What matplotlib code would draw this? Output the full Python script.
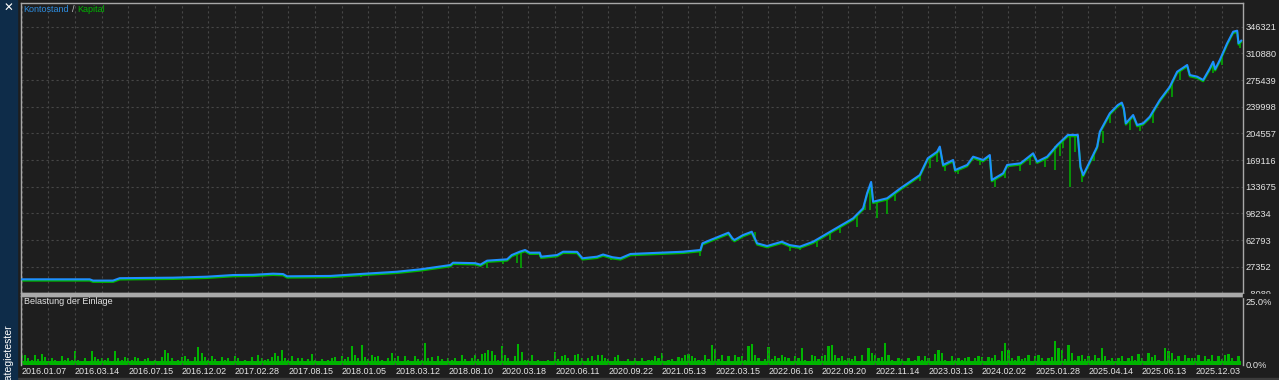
import numpy as np
import matplotlib.pyplot as plt
import matplotlib.transforms as mtransforms
from matplotlib.patches import Rectangle

plt.rcParams['font.family'] = ['Liberation Sans', 'DejaVu Sans']

# balance curve: trade number -> account balance
trade_no = [0, 102, 107, 137, 147, 227, 278, 317, 347, 377, 392, 398, 463, 508, 563,
            598, 643, 647, 680, 688, 698, 728, 735, 747, 755, 762, 777, 779, 803, 812,
            833, 841, 863, 872, 886, 898, 913, 992, 1018, 1021, 1033, 1060, 1066, 1069,
            1082, 1095, 1103, 1118, 1140, 1152, 1167, 1187, 1217, 1247, 1262, 1268, 1274,
            1277, 1298, 1318, 1347, 1359, 1373, 1377, 1382, 1397, 1400, 1418, 1427, 1442,
            1452, 1455, 1472, 1478, 1498, 1517, 1523, 1538, 1553, 1569, 1584, 1588, 1592,
            1602, 1613, 1617, 1632, 1644, 1650, 1653, 1656, 1667, 1673, 1682, 1692, 1707,
            1722, 1733, 1748, 1752, 1763, 1772, 1782, 1787, 1790, 1797, 1808, 1817, 1823,
            1825, 1829]
balance = [10500, 10500, 8800, 8800, 12000, 12700, 14000, 16200, 16500, 18000, 17500,
           14500, 15000, 17600, 20600, 23800, 29500, 32600, 32000, 30000, 35300, 37100,
           42800, 47200, 49500, 45900, 46000, 40600, 42800, 47200, 47000, 38500, 40600,
           43500, 39900, 38500, 44200, 47200, 49500, 58400, 62800, 72500, 65000, 62800,
           69400, 73800, 58400, 54800, 60500, 56000, 53900, 60500, 76100, 91600, 105000,
           125000, 140000, 113700, 118300, 131600, 149200, 171500, 180200, 187000, 162600,
           169200, 155900, 162600, 173600, 169200, 175800, 142600, 151500, 162600, 164800,
           178100, 167000, 173600, 189000, 202500, 202500, 160300, 149200, 167000, 187000,
           206800, 231300, 242300, 245500, 238000, 218000, 229000, 215700, 218000, 226800,
           249000, 266700, 286600, 295500, 282200, 280000, 275600, 291100, 299900, 290000,
           302200, 324400, 339800, 341200, 324400, 327900]

# equity drawdowns: trade number, balance level, lowest equity
dip_trade = [509, 683, 698, 722, 743, 749, 777, 884, 1017, 1100, 1152, 1167, 1193, 1212,
             1227, 1253, 1265, 1273, 1283, 1298, 1310, 1347, 1362, 1373, 1385, 1404, 1437,
             1460, 1475, 1498, 1512, 1535, 1550, 1557, 1562, 1572, 1580, 1590, 1608, 1622,
             1632, 1662, 1677, 1697, 1725, 1737, 1787, 1800, 1827]
dip_top = [17600, 32000, 35000, 37000, 45000, 47000, 46000, 40000, 49500, 73000, 56000,
           54000, 63000, 73000, 82000, 95000, 110000, 130000, 114000, 118000, 125000,
           149000, 172000, 180000, 163000, 158000, 170000, 144000, 155000, 165000, 175000,
           172000, 188000, 193000, 196000, 202000, 202000, 152000, 180000, 208000, 231000,
           222000, 216000, 232000, 270000, 288000, 300000, 306000, 328000]
dip_low = [13000, 29500, 25000, 31000, 32600, 25000, 40000, 36000, 41500, 62000, 48000,
           50000, 54000, 63000, 72000, 80000, 103000, 103000, 91700, 98000, 115000,
           141000, 158000, 166000, 155000, 150000, 162000, 133000, 145000, 155000, 163000,
           160000, 155900, 175000, 185000, 133700, 180000, 140000, 168000, 191700, 218000,
           209000, 208000, 218000, 253500, 276000, 285000, 295000, 318000]

# deposit load (%), one value every 5 trades
load = [
    4.0, 3.8, 2.5, 1.8, 3.6, 2.2, 3.9, 2.8, 1.5, 2.6, 1.7, 1.4, 3.2, 2.0, 2.6, 1.9,
    5.2, 2.0, 1.4, 2.6, 1.2, 5.0, 2.8, 2.1, 2.6, 1.7, 2.4, 1.5, 5.1, 2.5, 1.8, 2.9,
    2.6, 1.8, 2.8, 2.4, 1.3, 2.2, 2.6, 1.5, 2.0, 1.2, 2.8, 5.6, 4.4, 2.5, 1.6, 2.0,
    2.8, 3.4, 2.2, 1.4, 2.8, 6.5, 4.4, 2.8, 1.9, 3.2, 2.2, 1.5, 2.8, 1.8, 2.5, 1.3,
    3.3, 2.5, 1.4, 2.0, 1.6, 2.8, 1.3, 3.5, 2.5, 1.8, 2.2, 2.8, 4.5, 3.2, 5.6, 2.6,
    2.0, 3.2, 1.5, 2.7, 2.4, 1.6, 2.2, 4.0, 1.8, 1.3, 2.1, 1.4, 1.9, 2.7, 3.0, 1.6,
    3.1, 2.2, 2.8, 7.0, 3.5, 2.4, 7.4, 3.0, 2.2, 3.6, 2.8, 3.3, 2.0, 1.6, 2.6, 4.3,
    2.4, 3.2, 1.6, 3.3, 2.0, 1.4, 3.2, 2.2, 1.7, 8.1, 2.5, 2.8, 1.6, 3.1, 2.2, 1.2,
    2.7, 2.0, 2.4, 1.6, 3.7, 2.2, 1.4, 2.5, 3.5, 2.1, 3.9, 4.5, 5.6, 5.2, 3.7, 1.9,
    6.8, 3.7, 2.4, 1.5, 3.1, 7.5, 4.9, 1.8, 2.0, 3.7, 1.6, 2.0, 1.4, 1.2, 2.0, 1.5,
    4.7, 2.3, 3.1, 3.7, 2.4, 1.5, 3.5, 3.9, 2.6, 1.3, 2.5, 3.4, 1.8, 3.5, 3.7, 2.7,
    2.2, 1.4, 3.0, 3.5, 1.6, 1.3, 2.2, 1.2, 2.5, 1.5, 2.7, 1.4, 1.8, 2.0, 3.1, 2.4,
    4.3, 1.5, 1.8, 2.2, 1.4, 3.0, 2.4, 3.8, 4.0, 3.2, 2.6, 1.8, 2.0, 3.6, 2.1, 7.3,
    6.0, 2.1, 3.5, 1.6, 3.2, 1.4, 3.7, 2.9, 3.1, 2.0, 6.8, 7.5, 3.6, 2.4, 1.5, 2.2,
    6.5, 2.2, 3.3, 2.6, 3.5, 2.8, 2.4, 1.6, 3.2, 2.7, 6.2, 2.0, 1.4, 3.7, 3.1, 2.3,
    3.3, 3.5, 7.0, 7.2, 3.6, 2.6, 3.3, 1.8, 2.4, 2.2, 3.2, 1.6, 3.5, 1.4, 6.2, 4.3,
    3.7, 2.4, 3.0, 8.1, 3.6, 1.8, 1.4, 2.7, 2.2, 1.6, 2.6, 1.5, 1.9, 3.1, 2.0, 3.4,
    2.4, 1.6, 3.9, 5.6, 4.3, 2.0, 1.5, 3.2, 1.9, 2.4, 1.7, 2.7, 3.0, 1.5, 2.4, 3.1,
    2.8, 1.6, 3.0, 2.7, 3.7, 1.7, 5.0, 8.1, 5.6, 2.7, 1.8, 3.1, 2.2, 2.7, 3.5, 1.6,
    3.1, 3.5, 2.4, 1.6, 2.5, 3.0, 8.7, 6.2, 5.6, 2.3, 7.2, 4.3, 2.0, 3.1, 3.7, 2.2,
    3.1, 2.0, 3.7, 2.4, 6.2, 3.1, 1.8, 2.7, 1.5, 2.4, 3.1, 1.6, 2.7, 3.3, 2.0, 4.0,
    2.7, 1.6, 4.3, 3.0, 3.7, 2.0, 1.5, 6.2, 5.0, 4.3, 2.1, 3.1, 1.6, 3.7, 2.4, 2.7,
    2.5, 3.5, 1.5, 3.1, 2.2, 3.7, 1.6, 3.1, 2.2, 3.5, 4.0, 2.5, 1.6, 3.1,
]
base_load = 1.3

date_labels = ['2016.01.07', '2016.03.14', '2016.07.15', '2016.12.02', '2017.02.28',
               '2017.08.15', '2018.01.05', '2018.03.12', '2018.08.10', '2020.03.18',
               '2020.06.11', '2020.09.22', '2021.05.13', '2022.03.15', '2022.06.16',
               '2022.09.20', '2022.11.14', '2023.03.13', '2024.02.02', '2025.01.28',
               '2025.04.14', '2025.06.13', '2025.12.03']
y_ticks = [-8089, 27352, 62793, 98234, 133675, 169116, 204557, 239998, 275439, 310880, 346321]
load_ticks = [0, 25]
load_labels = ['0.0%', '25.0%']

BG = '#1e1e1e'
BLUE = '#1e90ff'
GREEN = '#00b400'
GRID = '#474747'
FRAME = '#a8a8a8'
TXT = '#e4e4e4'
FS = 6.7

W, H = 1279, 380
fig = plt.figure(figsize=(W / 100, H / 100), dpi=100, facecolor=BG)

def box(x0, y0, x1, y1):
    return [x0 / W, 1 - y1 / H, (x1 - x0) / W, (y1 - y0) / H]

xmin, xmax = -1.8, 1831

# main panel
ax = fig.add_axes(box(20.5, 3, 1242.5, 293.3), facecolor=BG)
shift = mtransforms.offset_copy(ax.transData, fig=fig, x=0, y=-1.3, units='dots')
ax.plot(trade_no, balance, color=GREEN, lw=1.5, transform=shift, zorder=2)
ax.vlines(dip_trade, dip_low, dip_top, color=GREEN, lw=1.1, zorder=2)
ax.plot(trade_no, balance, color=BLUE, lw=1.5, zorder=3)
ax.set_xlim(xmin, xmax)
ax.set_ylim(-8089, 378000)
ax.set_xticks(np.arange(0, 1831, 40))
ax.set_yticks(y_ticks)
ax.yaxis.tick_right()
ax.tick_params(length=0, labelbottom=False, labelsize=FS, labelcolor=TXT, pad=2)
ax.grid(True, color=GRID, ls=(0, (2, 2.5)), lw=0.8)
for s in ax.spines.values():
    s.set_color(FRAME)
    s.set_linewidth(1)

t1 = ax.text(2.5 / 1222, 1 - 6.5 / 290.3, 'Kontostand', color='#2d8de0', fontsize=6.5,
             transform=ax.transAxes, va='center', ha='left')
t2 = ax.annotate('/', xy=(1, 0.5), xycoords=t1, xytext=(3, 0), textcoords='offset pixels',
                 color='#c8c8c8', fontsize=6.5, va='center', ha='left')
ax.annotate('Kapital', xy=(1, 0.5), xycoords=t2, xytext=(3, 0), textcoords='offset pixels',
            color=GREEN, fontsize=6.5, va='center', ha='left')

# load panel
ax2 = fig.add_axes(box(20.5, 296.3, 1242.5, 365), facecolor=BG)
ax2.fill_between([0, trade_no[-1]], 0, base_load, color=GREEN, lw=0)
ax2.bar(np.arange(len(load)) * 5, load, width=3.2, color=GREEN, lw=0)
ax2.set_xlim(xmin, xmax)
ax2.set_ylim(0, 25)
ax2.set_xticks(np.arange(0, 1831, 40))
ax2.set_xticklabels([date_labels[i // 2] if i % 2 == 0 else ''
                     for i in range(len(np.arange(0, 1831, 40)))])
for lab in ax2.get_xticklabels():
    lab.set_ha('left')
    lab.set_fontsize(6.5)
ax2.set_yticks(load_ticks)
ax2.tick_params(length=0, labelcolor=TXT, labelleft=False, labelright=False)
ax2.tick_params(axis='x', pad=1.5)
# percent labels drawn beside the panel
ylab = mtransforms.blended_transform_factory(ax2.transAxes, ax2.transData)
for v, s in zip(load_ticks, load_labels):
    ax2.annotate(s, xy=(1, v), xycoords=ylab, xytext=(3, -1.5 if v else 0),
                 textcoords='offset pixels', ha='left', va='top' if v else 'center',
                 color=TXT, fontsize=FS, annotation_clip=False)
ax2.grid(True, axis='x', color=GRID, ls=(0, (2, 2.5)), lw=0.8)
for s in ax2.spines.values():
    s.set_color(FRAME)
    s.set_linewidth(1)
ax2.spines['bottom'].set_visible(False)
ax2.text(3 / 1222, 1 - 5.5 / 68.7, 'Belastung der Einlage', color=TXT, fontsize=6.5,
         transform=ax2.transAxes, va='center', ha='left')

# separator between panels (hides the lower half of the last balance label)
fig.patches.append(Rectangle((20.5 / W, 1 - 296.3 / H), 1222 / W, 3.2 / H,
                             transform=fig.transFigure, color='#a9a9a9', zorder=5))
fig.patches.append(Rectangle((1243 / W, 1 - 296.8 / H), 36 / W, 3.2 / H,
                             transform=fig.transFigure, color=BG, zorder=5))
# scrollbar strip at the bottom
fig.patches.append(Rectangle((17 / W, 0), 1262 / W, 2.5 / H,
                             transform=fig.transFigure, color='#3c3c3c', zorder=1))

# left tool strip
fig.patches.append(Rectangle((0, 0), 17 / W, 1, transform=fig.transFigure,
                             color='#0e2c49', zorder=1))
fig.text(8.5 / W, 1 - 8 / H, '\u2715', color='white', fontsize=8.5, fontweight='bold',
         ha='center', va='center', family='DejaVu Sans')
fig.text(8.5 / W, 1 - 324 / H, 'Strategietester', color='white', fontsize=7.6,
         rotation=90, ha='center', va='top')

fig.savefig('out.png', dpi=100, facecolor=BG)
